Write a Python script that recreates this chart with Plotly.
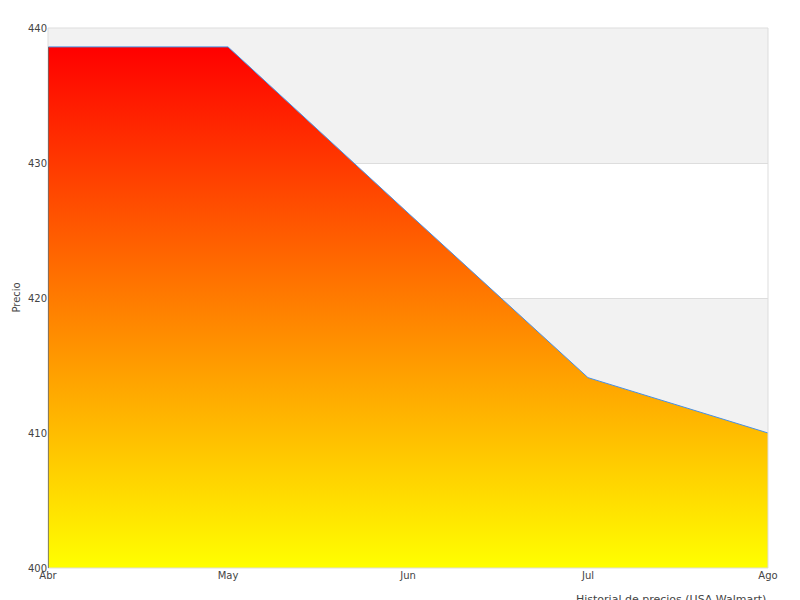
import plotly.graph_objects as go

months = ["Abr", "May", "Jun", "Jul", "Ago"]
prices = [438.6, 438.6, 426.3, 414.1, 410.0]
y_ticks = [400, 410, 420, 430, 440]
base = [400] * len(months)

xs = list(range(len(months)))
fig = go.Figure()
fig.add_trace(go.Scatter(x=xs, y=base, mode="lines", line=dict(width=0), hoverinfo="skip"))
fig.add_trace(go.Scatter(
    x=xs, y=prices, mode="lines",
    line=dict(color="#4a90e2", width=1),
    fill="tonexty",
    fillgradient=dict(type="vertical", colorscale=[[0, "#ffff00"], [1, "#ff0000"]]),
    hoverinfo="skip"))

shapes = []
for lo in [410, 430]:
    shapes.append(dict(type="rect", xref="paper", yref="y", x0=0, x1=1, y0=lo, y1=lo + 10,
                       fillcolor="#f2f2f2", line=dict(width=0), layer="below"))
shapes.append(dict(type="rect", xref="paper", yref="paper", x0=0, x1=1, y0=0, y1=1,
                   line=dict(color="#dddddd", width=1)))
shapes.append(dict(type="line", xref="x", yref="y", x0=0, x1=0, y0=400, y1=prices[0],
                   line=dict(color="#333333", width=1)))

fig.update_layout(
    width=800, height=600, margin=dict(l=40, r=40, t=20, b=40),
    paper_bgcolor="white", plot_bgcolor="white", showlegend=False,
    font=dict(family="DejaVu Sans", size=11, color="#444444"),
    shapes=shapes,
    xaxis=dict(range=[0, 4], tickvals=xs, ticktext=months, automargin=False,
               showgrid=False, zeroline=False, ticks="", tickfont=dict(size=10)),
    yaxis=dict(range=[400, 440], tickvals=y_ticks, showgrid=True, gridcolor="#dddddd",
               automargin=False, zeroline=False, tickfont=dict(size=10)),
    annotations=[
        dict(text="Precio", xref="paper", yref="paper", x=-0.045, y=0.5, textangle=-90,
             showarrow=False, font=dict(size=10), xanchor="center", yanchor="middle"),
        dict(text="Historial de precios (USA Walmart)", xref="paper", yref="paper", x=1, y=-0.042,
             showarrow=False, font=dict(size=11), xanchor="right", yanchor="top"),
    ],
)
fig.write_html("out.html")
